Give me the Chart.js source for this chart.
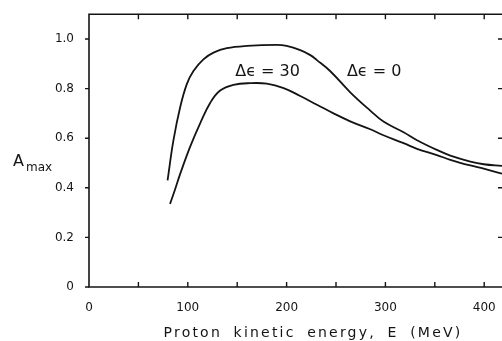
<!DOCTYPE html>
<html><head><meta charset="utf-8">
<script src="https://cdn.jsdelivr.net/npm/chart.js@4.4.1/dist/chart.umd.min.js"></script>
<style>html,body{margin:0;padding:0;background:#fff;overflow:hidden}#wrap{width:502px;height:341px;position:relative}</style>
</head><body><div id="wrap"><canvas id="c" width="502" height="341"></canvas></div>
<script>
// ---- data ----
const energyDe0 = [79.5, 85.4, 92.2, 99, 105.7, 115.8, 126, 139.5, 159.8, 190, 200, 213.8, 224, 230.7, 244, 264.4, 284.7, 298, 318.4, 332, 352, 365.7, 386, 399.5, 418];
const amaxDe0   = [0.43, 0.59, 0.724, 0.818, 0.871, 0.918, 0.945, 0.963, 0.972, 0.976, 0.972, 0.955, 0.935, 0.915, 0.871, 0.785, 0.711, 0.667, 0.624, 0.592, 0.553, 0.53, 0.506, 0.495, 0.488];
const energyDe30 = [82, 87, 92.2, 102.3, 112.5, 122.6, 132.7, 146.2, 163, 180, 197, 213.8, 230.7, 247.5, 264.4, 284.7, 298, 318.4, 332, 352, 365.7, 386, 399.5, 418];
const amaxDe30   = [0.335, 0.392, 0.455, 0.565, 0.66, 0.742, 0.792, 0.815, 0.822, 0.82, 0.802, 0.77, 0.735, 0.7, 0.668, 0.636, 0.612, 0.58, 0.557, 0.532, 0.513, 0.49, 0.477, 0.457];
const seriesLabels = ['Δϵ = 0', 'Δϵ = 30'];
const seriesLabelAt = [[261, 0.866], [148, 0.866]];
const xTickValues = [0, 100, 200, 300, 400];
const xTickLabels = ['0', '100', '200', '300', '400'];
const xMinorTicks = [50, 150, 250, 350];
const yTickValues = [0, 0.2, 0.4, 0.6, 0.8, 1.0];
const yTickLabels = ['0', '0.2', '0.4', '0.6', '0.8', '1.0'];
const xTitle = 'Proton kinetic energy, E (MeV)';
const yTitleMain = 'A', yTitleSub = 'max';

const INK = '#141414';
const FONT = 'DejaVu Sans';

function pts(xs, ys) { return xs.map((x, i) => ({x: x, y: ys[i]})); }

const decor = {
  id: 'decor',
  beforeDatasetsDraw(chart) {
    const ctx = chart.ctx, a = chart.chartArea, xs = chart.scales.x, ys = chart.scales.y;
    ctx.save();
    ctx.strokeStyle = INK; ctx.lineWidth = 1.6; ctx.lineCap = 'square';
    ctx.beginPath();
    ctx.moveTo(a.right + 2, a.top); ctx.lineTo(a.left, a.top); ctx.lineTo(a.left, a.bottom); ctx.lineTo(a.right + 2, a.bottom);
    ctx.stroke();
    ctx.lineWidth = 1.4; ctx.lineCap = 'butt';
    ctx.beginPath();
    xTickValues.concat(xMinorTicks).forEach(v => {
      const px = xs.getPixelForValue(v);
      if (v > 0) {
        ctx.moveTo(px, a.bottom); ctx.lineTo(px, a.bottom - 5);
        ctx.moveTo(px, a.top); ctx.lineTo(px, a.top + 5);
      }
    });
    yTickValues.forEach(v => {
      const py = ys.getPixelForValue(v);
      ctx.moveTo(a.left - 4, py); ctx.lineTo(a.left, py);
      if (v > 0) { ctx.moveTo(a.right, py); ctx.lineTo(a.right - 4, py); }
    });
    ctx.stroke();
    ctx.restore();
  },
  afterDatasetsDraw(chart) {
    const ctx = chart.ctx, xs = chart.scales.x, ys = chart.scales.y;
    ctx.save();
    ctx.fillStyle = INK;
    ctx.font = '16px "' + FONT + '"';
    ctx.textAlign = 'left'; ctx.textBaseline = 'middle';
    seriesLabels.forEach((t, i) => {
      ctx.fillText(t, xs.getPixelForValue(seriesLabelAt[i][0]), ys.getPixelForValue(seriesLabelAt[i][1]));
    });
    // x axis title
    ctx.font = '14px "' + FONT + '"';
    ctx.textAlign = 'center'; ctx.textBaseline = 'alphabetic';
    if ('letterSpacing' in ctx) ctx.letterSpacing = '2.2px';
    if ('wordSpacing' in ctx) ctx.wordSpacing = '5px';
    ctx.fillText(xTitle, 313, 337);
    if ('letterSpacing' in ctx) ctx.letterSpacing = '0px';
    if ('wordSpacing' in ctx) ctx.wordSpacing = '0px';
    // y axis title with subscript
    ctx.textAlign = 'left';
    ctx.font = '16px "' + FONT + '"';
    ctx.fillText(yTitleMain, 13, 166);
    ctx.font = '12px "' + FONT + '"';
    ctx.fillText(yTitleSub, 26, 171);
    ctx.restore();
  }
};

new Chart(document.getElementById('c'), {
  type: 'line',
  data: {
    datasets: [
      {label: seriesLabels[0], data: pts(energyDe0, amaxDe0)},
      {label: seriesLabels[1], data: pts(energyDe30, amaxDe30)}
    ]
  },
  options: {
    responsive: false, animation: false, devicePixelRatio: 1,
    layout: {padding: {top: 14, left: 0, right: 0, bottom: 0}},
    elements: {
      line: {borderColor: INK, borderWidth: 1.8, tension: 0.4, fill: false},
      point: {radius: 0, hoverRadius: 0}
    },
    plugins: {legend: {display: false}, tooltip: {enabled: false}},
    scales: {
      x: {
        type: 'linear', min: 0, max: 418,
        afterBuildTicks: s => { s.ticks = xTickValues.map(v => ({value: v})); },
        afterFit: s => { s.height = 54; },
        grid: {display: false}, border: {display: false},
        ticks: {
          callback: v => xTickLabels[xTickValues.indexOf(v)],
          color: INK, font: {family: FONT, size: 12}, padding: 6, maxRotation: 0, autoSkip: false
        }
      },
      y: {
        type: 'linear', min: 0, max: 1.1,
        afterBuildTicks: s => { s.ticks = yTickValues.map(v => ({value: v})); },
        afterFit: s => { s.width = 89; },
        grid: {display: false}, border: {display: false},
        ticks: {
          callback: v => yTickLabels[yTickValues.indexOf(v)],
          color: INK, font: {family: FONT, size: 12}, padding: 7, autoSkip: false
        }
      }
    }
  },
  plugins: [decor]
});
</script>
</body></html>
